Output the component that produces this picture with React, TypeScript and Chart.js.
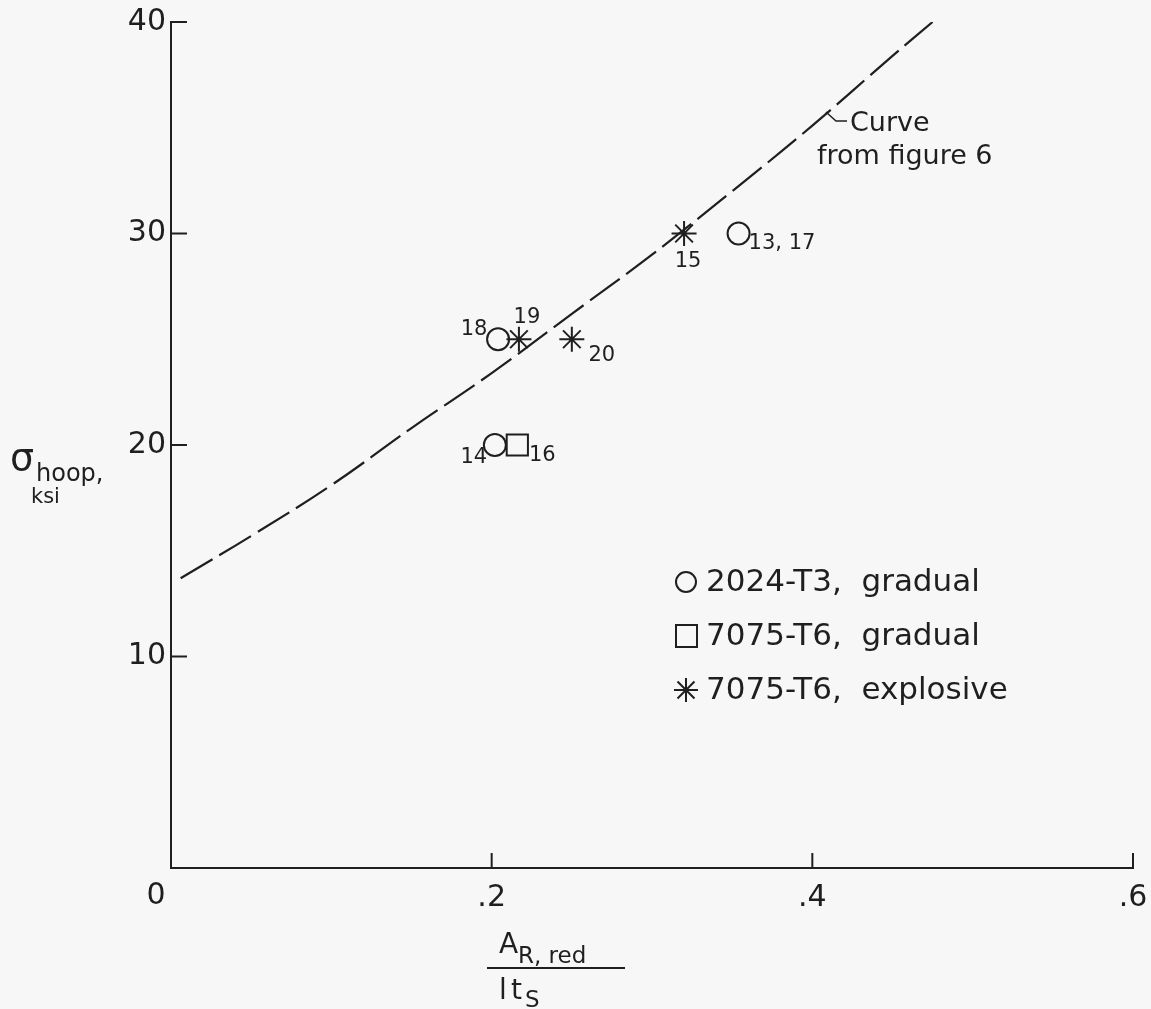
import React, { useEffect, useRef } from 'react';
import { Chart, registerables } from 'chart.js';

Chart.register(...registerables);

const FONT = '"DejaVu Sans", sans-serif';
const INK = '#1f1f1f';
const BG = '#f7f7f7';

// Tick values / labels
const xTickValues = [0, 0.2, 0.4, 0.6];
const xTickLabels = ['0', '.2', '.4', '.6'];
const yTickValues = [10, 20, 30, 40];
const yTickLabels = ['10', '20', '30', '40'];

// Dashed curve from figure 6
const curveX = [0.006, 0.05, 0.1, 0.15, 0.2, 0.25, 0.3, 0.35, 0.4, 0.45, 0.475];
const curveY = [13.7, 15.7, 18.1, 20.8, 23.4, 26.2, 29.0, 32.0, 35.1, 38.4, 40.0];

// 2024-T3, gradual (circles)
const al2024X = [0.354, 0.204, 0.202];
const al2024Y = [30, 25, 20];
const al2024Labels = ['13, 17', '18', '14'];

// 7075-T6, gradual (squares)
const al7075gX = [0.216];
const al7075gY = [20];
const al7075gLabels = ['16'];

// 7075-T6, explosive (asterisks)
const al7075eX = [0.32, 0.217, 0.25];
const al7075eY = [30, 25, 25];
const al7075eLabels = ['15', '19', '20'];

const legendLabels = ['2024-T3,  gradual', '7075-T6,  gradual', '7075-T6,  explosive'];

// label placement offsets (pixels, relative to the point), keyed by label text
const labelOffsets: Record<string, [number, number, CanvasTextAlign]> = {
  '13, 17': [10, 10, 'left'],
  '18': [-24, -10, 'center'],
  '14': [-21, 13, 'center'],
  '16': [25, 11, 'center'],
  '15': [4, 28, 'center'],
  '19': [8, -22, 'center'],
  '20': [30, 16, 'center'],
};

const toXY = (xs: number[], ys: number[]) => xs.map((x, i) => ({ x, y: ys[i] }));

const drawStar = (ctx: CanvasRenderingContext2D, x: number, y: number, r: number) => {
  ctx.beginPath();
  for (let k = 0; k < 4; k++) {
    const a = (k * Math.PI) / 4;
    ctx.moveTo(x - Math.cos(a) * r, y - Math.sin(a) * r);
    ctx.lineTo(x + Math.cos(a) * r, y + Math.sin(a) * r);
  }
  ctx.stroke();
};

const decorPlugin = {
  id: 'decor',
  beforeDraw(chart: any) {
    const { ctx, width, height } = chart;
    ctx.save();
    ctx.fillStyle = BG;
    ctx.fillRect(0, 0, width, height);
    ctx.restore();
  },
  afterDraw(chart: any) {
    const { ctx, chartArea } = chart;
    const xs = chart.scales.x;
    const ys = chart.scales.y;
    ctx.save();
    ctx.strokeStyle = INK;
    ctx.fillStyle = INK;
    ctx.lineWidth = 2;
    // inward ticks
    yTickValues.forEach((v) => {
      const py = ys.getPixelForValue(v);
      ctx.beginPath();
      ctx.moveTo(chartArea.left, py);
      ctx.lineTo(chartArea.left + 16, py);
      ctx.stroke();
    });
    xTickValues.forEach((v) => {
      if (v === 0) return;
      const px = xs.getPixelForValue(v);
      ctx.beginPath();
      ctx.moveTo(px, chartArea.bottom);
      ctx.lineTo(px, chartArea.bottom - 15);
      ctx.stroke();
    });
    // "0" x label, set slightly left of origin
    ctx.font = `30px ${FONT}`;
    ctx.textAlign = 'center';
    ctx.textBaseline = 'middle';
    ctx.fillText(xTickLabels[0], chartArea.left - 15, chartArea.bottom + 28);

    // point labels
    ctx.font = `21px ${FONT}`;
    const groups: [number[], number[], string[]][] = [
      [al2024X, al2024Y, al2024Labels],
      [al7075gX, al7075gY, al7075gLabels],
      [al7075eX, al7075eY, al7075eLabels],
    ];
    groups.forEach(([gx, gy, gl]) => {
      gx.forEach((xv, i) => {
        const [dx, dy, al] = labelOffsets[gl[i]];
        ctx.textAlign = al;
        ctx.textBaseline = 'middle';
        ctx.fillText(gl[i], xs.getPixelForValue(xv) + dx, ys.getPixelForValue(gy[i]) + dy);
      });
    });

    // curve annotation
    ctx.font = `27px ${FONT}`;
    ctx.textAlign = 'left';
    ctx.textBaseline = 'middle';
    ctx.fillText('Curve', 850, 124);
    ctx.fillText('from figure 6', 817, 157);
    ctx.lineWidth = 1.5;
    ctx.beginPath();
    ctx.moveTo(826, 112);
    ctx.lineTo(836, 121);
    ctx.lineTo(847, 121);
    ctx.stroke();

    // legend
    ctx.lineWidth = 2;
    const lx = 686;
    const lys = [582, 636, 690];
    ctx.beginPath();
    ctx.arc(lx, lys[0], 10, 0, Math.PI * 2);
    ctx.stroke();
    ctx.strokeRect(lx - 10, lys[1] - 11, 21, 22);
    drawStar(ctx, lx, lys[2], 12);
    ctx.font = `31px ${FONT}`;
    ctx.textAlign = 'left';
    ctx.textBaseline = 'middle';
    legendLabels.forEach((t, i) => ctx.fillText(t, 706, lys[i] + 1));

    // y axis title
    ctx.textBaseline = 'alphabetic';
    ctx.font = `38px ${FONT}`;
    ctx.fillText('σ', 10, 470);
    ctx.font = `24px ${FONT}`;
    ctx.fillText('hoop,', 36, 481);
    ctx.font = `21px ${FONT}`;
    ctx.fillText('ksi', 31, 503);

    // x axis title (fraction)
    ctx.font = `28px ${FONT}`;
    ctx.fillText('A', 499, 953);
    ctx.font = `23px ${FONT}`;
    ctx.fillText('R, red', 518, 963);
    ctx.lineWidth = 2;
    ctx.beginPath();
    ctx.moveTo(487, 968);
    ctx.lineTo(625, 968);
    ctx.stroke();
    ctx.font = `28px ${FONT}`;
    ctx.fillText('l', 499, 999);
    ctx.fillText('t', 511, 999);
    ctx.font = `23px ${FONT}`;
    ctx.fillText('S', 525, 1007);
    ctx.restore();
  },
};

export default function App() {
  const ref = useRef<HTMLCanvasElement | null>(null);
  useEffect(() => {
    if (!ref.current) return;
    const chart = new Chart(ref.current, {
      type: 'scatter',
      data: {
        datasets: [
          {
            label: 'Curve from figure 6',
            data: toXY(curveX, curveY),
            showLine: true,
            borderColor: INK,
            borderWidth: 2.2,
            borderDash: [37, 8],
            pointRadius: 0,
            tension: 0.4,
            fill: false,
          },
          {
            label: '2024-T3, gradual',
            data: toXY(al2024X, al2024Y),
            pointStyle: 'circle',
            pointRadius: 11,
            borderColor: INK,
            backgroundColor: 'rgba(0,0,0,0)',
            pointBorderWidth: 2,
          },
          {
            label: '7075-T6, gradual',
            data: toXY(al7075gX, al7075gY),
            pointStyle: 'rect',
            pointRadius: 15,
            borderColor: INK,
            backgroundColor: 'rgba(0,0,0,0)',
            pointBorderWidth: 2,
          },
          {
            label: '7075-T6, explosive',
            data: toXY(al7075eX, al7075eY),
            pointStyle: 'star',
            pointRadius: 12.5,
            borderColor: INK,
            backgroundColor: 'rgba(0,0,0,0)',
            pointBorderWidth: 2,
          },
        ],
      },
      options: {
        responsive: false,
        animation: false,
        devicePixelRatio: 1,
        layout: { padding: { top: 22, right: 18, left: 0, bottom: 0 } },
        plugins: { legend: { display: false }, tooltip: { enabled: false } },
        scales: {
          x: {
            type: 'linear',
            min: 0,
            max: 0.6,
            grid: { display: false, drawTicks: false },
            border: { display: true, color: INK, width: 2 },
            ticks: {
              stepSize: 0.2,
              padding: 12,
              color: INK,
              font: { family: FONT, size: 30 },
              callback: (v: any) => {
                const i = xTickValues.findIndex((t) => Math.abs(t - Number(v)) < 1e-6);
                return i > 0 ? xTickLabels[i] : '';
              },
            },
            afterFit: (s: any) => {
              s.height = 141;
              s.paddingLeft = 0;
              s.paddingRight = 0;
            },
          },
          y: {
            type: 'linear',
            min: 0,
            max: 40,
            grid: { display: false, drawTicks: false },
            border: { display: true, color: INK, width: 2 },
            ticks: {
              stepSize: 10,
              padding: 5,
              color: INK,
              font: { family: FONT, size: 30 },
              callback: (v: any) => {
                const i = yTickValues.findIndex((t) => Math.abs(t - Number(v)) < 1e-6);
                return i >= 0 ? yTickLabels[i] : '';
              },
            },
            afterFit: (s: any) => {
              s.width = 171;
              s.paddingTop = 0;
              s.paddingBottom = 0;
            },
          },
        },
      },
      plugins: [decorPlugin],
    });
    return () => chart.destroy();
  }, []);
  return (
    <div style={{ position: 'absolute', left: 0, top: 0, width: 1151, height: 1009, background: BG }}>
      <canvas ref={ref} width={1151} height={1009} style={{ width: 1151, height: 1009, display: 'block' }} />
    </div>
  );
}
